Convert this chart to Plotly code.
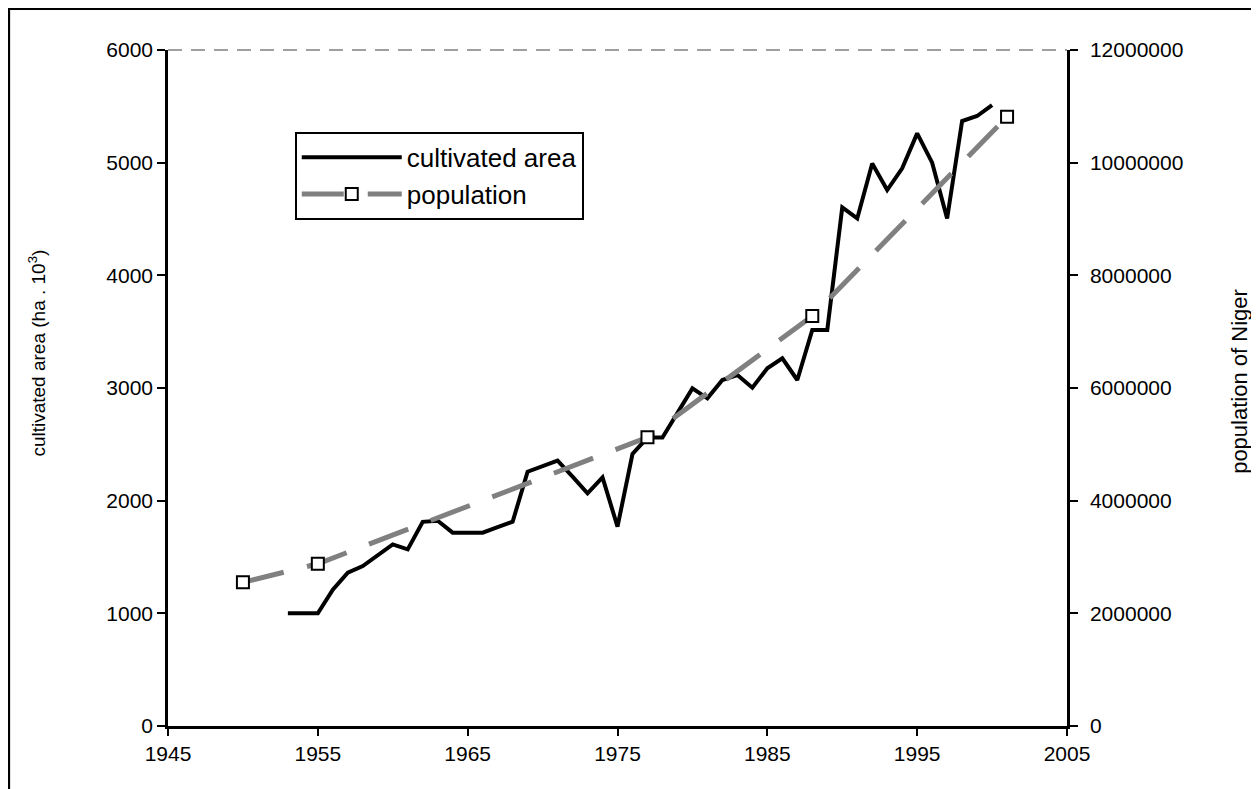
import plotly.graph_objects as go

years_area = list(range(1953, 2001))
area = [1000, 1000, 1000, 1210, 1360, 1420, 1515, 1612, 1568, 1812, 1822, 1716,
        1716, 1716, 1765, 1813, 2257, 2308, 2355, 2213, 2065, 2207, 1769, 2414,
        2560, 2560, 2785, 2997, 2908, 3071, 3115, 3003, 3175, 3264, 3071, 3515,
        3515, 4603, 4505, 4993, 4757, 4950, 5260, 5000, 4505, 5370, 5414, 5511]

years_pop = [1950, 1955, 1977, 1988, 2001]
population = [2550000, 2880000, 5124000, 7278000, 10816000]

x_ticks = [1945, 1955, 1965, 1975, 1985, 1995, 2005]
y1_ticks = [0, 1000, 2000, 3000, 4000, 5000, 6000]
y2_ticks = [0, 2000000, 4000000, 6000000, 8000000, 10000000, 12000000]

FONT = "Liberation Sans, Arial, sans-serif"
NARROW = "Liberation Sans Narrow, Arial Narrow, Liberation Sans, sans-serif"

fig = go.Figure()
fig.add_trace(go.Scatter(
    x=years_area, y=area, mode="lines", name="cultivated area",
    line=dict(color="black", width=4), yaxis="y"))
fig.add_trace(go.Scatter(
    x=years_pop, y=population, mode="lines+markers", name="population",
    line=dict(color="#808080", width=5, dash="42px,24px"),
    marker=dict(symbol="square", size=12, color="white",
                line=dict(color="black", width=2)),
    yaxis="y2"))

fig.update_layout(
    width=1251, height=781,
    margin=dict(l=160, r=192, t=42, b=63),
    paper_bgcolor="white", plot_bgcolor="white",
    font=dict(family=FONT, size=21, color="black"),
    showlegend=True,
    legend=dict(x=0.141, y=0.879, xanchor="left", yanchor="top",
                bordercolor="black", borderwidth=2, bgcolor="white",
                font=dict(family=FONT, size=26), itemwidth=100,
                tracegroupgap=0),
    xaxis=dict(range=[1945, 2005], tickvals=x_ticks, ticktext=[str(v) for v in x_ticks],
               showgrid=False, zeroline=False, showline=True, linecolor="black",
               linewidth=2.5, ticks="outside", ticklen=7, tickwidth=2,
               tickcolor="black", tickfont=dict(size=21)),
    yaxis=dict(range=[0, 6000], tickvals=y1_ticks, ticktext=[str(v) for v in y1_ticks],
               showgrid=False, zeroline=False, showline=True, linecolor="black",
               linewidth=2.5, ticks="outside", ticklen=8, tickwidth=2,
               tickcolor="black", tickfont=dict(size=21)),
    yaxis2=dict(range=[0, 12000000], tickvals=y2_ticks, ticktext=[str(v) for v in y2_ticks],
                overlaying="y", side="right",
                showgrid=False, zeroline=False, showline=True, linecolor="black",
                linewidth=2.5, ticks="outside", ticklen=8, tickwidth=2,
                tickcolor="black", tickfont=dict(size=21), ticklabelstandoff=8),
)

# axis titles
fig.add_annotation(text="cultivated area (ha . 10<sup>3</sup>)", textangle=-90,
                   xref="paper", yref="paper", x=-0.146, y=0.552,
                   xanchor="center", yanchor="middle",
                   showarrow=False, font=dict(family=NARROW, size=19))
fig.add_annotation(text="population of Niger", textangle=-90,
                   xref="paper", yref="paper", x=1.192, y=0.510,
                   xanchor="center", yanchor="middle",
                   showarrow=False, font=dict(family=NARROW, size=22))

# top dashed border line of plot area
fig.add_shape(type="line", xref="paper", yref="paper", x0=0, x1=1, y0=1, y1=1,
              line=dict(color="#808080", width=1.5, dash="14px,9px"))
# outer chart frame
fig.add_shape(type="rect", xref="paper", yref="paper",
              x0=-0.177, x1=1.25, y0=-0.15, y1=1.061,
              line=dict(color="black", width=2.5))

fig.write_html("out.html")
